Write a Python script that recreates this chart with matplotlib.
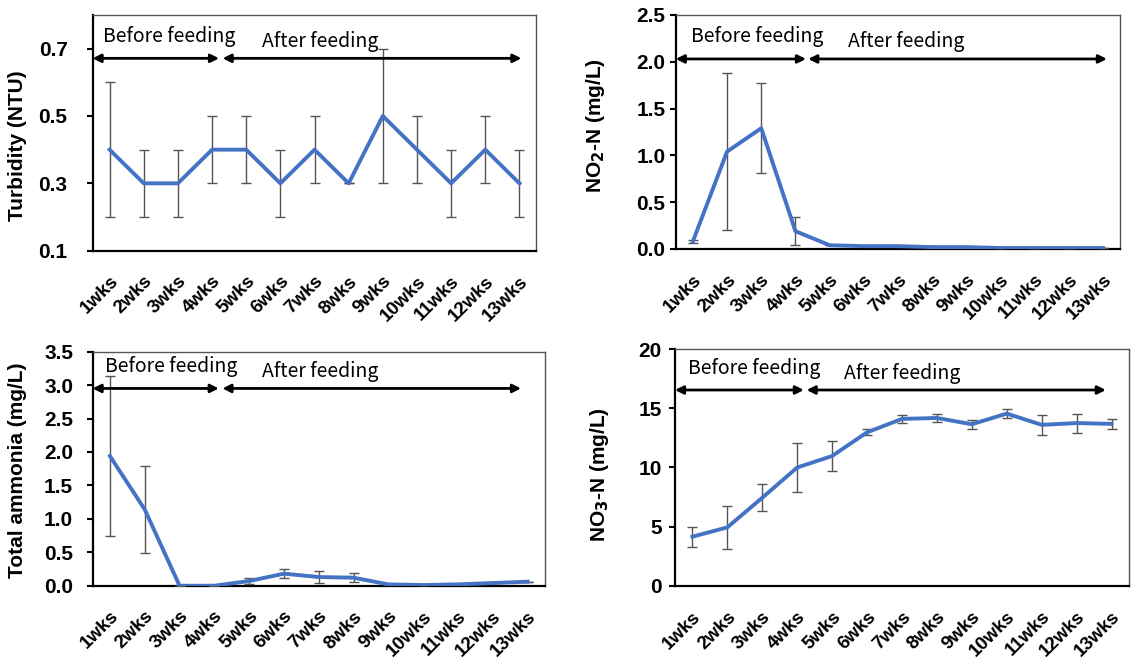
import matplotlib.pyplot as plt
from matplotlib.transforms import ScaledTranslation

weeks = ["1wks", "2wks", "3wks", "4wks", "5wks", "6wks", "7wks",
         "8wks", "9wks", "10wks", "11wks", "12wks", "13wks"]

turbidity = [0.4, 0.3, 0.3, 0.4, 0.4, 0.3, 0.4, 0.3, 0.5, 0.4, 0.3, 0.4, 0.3]
turbidity_err = [0.2, 0.1, 0.1, 0.1, 0.1, 0.1, 0.1, 0.0, 0.2, 0.1, 0.1, 0.1, 0.1]

no2 = [0.08, 1.04, 1.29, 0.19, 0.04, 0.03, 0.03, 0.02, 0.02, 0.01, 0.01, 0.01, 0.01]
no2_err = [0.02, 0.84, 0.48, 0.15, 0.0, 0.0, 0.0, 0.0, 0.0, 0.0, 0.0, 0.0, 0.0]

ammonia = [1.94, 1.14, 0.0, 0.0, 0.07, 0.18, 0.13, 0.12, 0.02, 0.01, 0.02, 0.04, 0.06]
ammonia_err = [1.2, 0.65, 0.0, 0.0, 0.04, 0.07, 0.09, 0.07, 0.0, 0.0, 0.0, 0.0, 0.0]

no3 = [4.16, 4.95, 7.45, 10.0, 10.97, 12.97, 14.1, 14.18, 13.65, 14.55, 13.6, 13.75, 13.68]
no3_err = [0.85, 1.8, 1.15, 2.1, 1.3, 0.25, 0.35, 0.35, 0.4, 0.37, 0.85, 0.8, 0.4]

BLUE = "#4472C4"
TICKFONT = "Liberation Sans"
NOTEFONT = "Noto Sans CJK KR"

fig = plt.figure(figsize=(11.34, 6.59), dpi=100)

# per panel: axes rect, y scale, ylabel + its position, ytick pad,
# arrow height, text spots and where the arrows split / end
panels = [
    dict(rect=[0.0816, 0.6196, 0.3915, 0.3577], vals=turbidity, errs=turbidity_err,
         ylim=(0.1, 0.8), yticks=[0.1, 0.3, 0.5, 0.7], ylabs=["0.1", "0.3", "0.5", "0.7"],
         ylabel="Turbidity (NTU)", lpos=(-0.148, 0.444), pad=13.5,
         ay=0.816, bt=(0.024, 0.908), at=(0.381, 0.887), split=(0.285, 0.293, 0.966)),
    dict(rect=[0.5959, 0.6222, 0.3920, 0.3551], vals=no2, errs=no2_err,
         ylim=(0, 2.5), yticks=[0, 0.5, 1.0, 1.5, 2.0, 2.5],
         ylabs=["0.0", "0.5", "1.0", "1.5", "2.0", "2.5"],
         ylabel=r"NO$_\mathbf{2}$-N (mg/L)", lpos=(-0.154, 0.526), pad=3,
         ay=0.812, bt=(0.034, 0.907), at=(0.388, 0.886), split=(0.293, 0.298, 0.970)),
    dict(rect=[0.0816, 0.1112, 0.3990, 0.3551], vals=ammonia, errs=ammonia_err,
         ylim=(0, 3.5), yticks=[0, 0.5, 1.0, 1.5, 2.0, 2.5, 3.0, 3.5],
         ylabs=["0.0", "0.5", "1.0", "1.5", "2.0", "2.5", "3.0", "3.5"],
         ylabel="Total ammonia (mg/L)", lpos=(-0.145, 0.494), pad=9.5,
         ay=0.843, bt=(0.028, 0.936), at=(0.374, 0.915), split=(0.279, 0.287, 0.947)),
    dict(rect=[0.5952, 0.1108, 0.4004, 0.3596], vals=no3, errs=no3_err,
         ylim=(0, 20), yticks=[0, 5, 10, 15, 20], ylabs=["0", "5", "10", "15", "20"],
         ylabel=r"NO$_\mathbf{3}$-N (mg/L)", lpos=(-0.141, 0.47), pad=5,
         ay=0.827, bt=(0.028, 0.918), at=(0.372, 0.897), split=(0.284, 0.290, 0.949)),
]

x = list(range(1, len(weeks) + 1))
shift = ScaledTranslation(4 / 100, 0, fig.dpi_scale_trans)  # nudge x labels right

for p in panels:
    ax = fig.add_axes(p["rect"])
    ax.errorbar(x, p["vals"], yerr=p["errs"], color=BLUE, lw=2.8, ecolor="#555555",
                elinewidth=1.0, capsize=3.3, capthick=1.0, zorder=3)
    ax.set_xlim(0.5, 13.5)
    ax.set_ylim(*p["ylim"])
    ax.set_yticks(p["yticks"])
    ax.set_yticklabels(p["ylabs"], fontsize=15, fontweight="bold", family=TICKFONT)
    ax.set_xticks(x)
    ax.set_xticklabels(weeks, rotation=45, ha="right", va="top", rotation_mode="anchor",
                       fontsize=13.5, fontweight="bold", family=TICKFONT)
    for lab in ax.get_xticklabels():
        lab.set_transform(lab.get_transform() + shift)
    ax.tick_params(axis="x", length=0, pad=16)
    ax.tick_params(axis="y", length=4.5, width=1.5, direction="out", pad=p["pad"])
    ax.set_ylabel(p["ylabel"], fontsize=15, fontweight="bold", family=TICKFONT)
    ax.yaxis.set_label_coords(*p["lpos"])
    for s in ["left", "bottom"]:
        ax.spines[s].set_linewidth(1.6)
        ax.spines[s].set_color("black")
    for s in ["top", "right"]:
        ax.spines[s].set_linewidth(1.0)
        ax.spines[s].set_color("#555555")

    # before / after feeding arrows
    b_end, a_start, a_end = p["split"]
    ay = p["ay"]
    ax.annotate("", xy=(0.0, ay), xytext=(b_end, ay), xycoords="axes fraction",
                arrowprops=dict(arrowstyle="<|-|>", color="black", lw=2,
                                mutation_scale=12, shrinkA=0, shrinkB=0))
    ax.annotate("", xy=(a_start, ay), xytext=(a_end, ay), xycoords="axes fraction",
                arrowprops=dict(arrowstyle="<|-|>", color="black", lw=2,
                                mutation_scale=12, shrinkA=0, shrinkB=0))
    ax.text(*p["bt"], "Before feeding", transform=ax.transAxes,
            fontsize=14, family=NOTEFONT, va="center", ha="left")
    ax.text(*p["at"], "After feeding", transform=ax.transAxes,
            fontsize=14, family=NOTEFONT, va="center", ha="left")

fig.savefig("out.png", dpi=100)
